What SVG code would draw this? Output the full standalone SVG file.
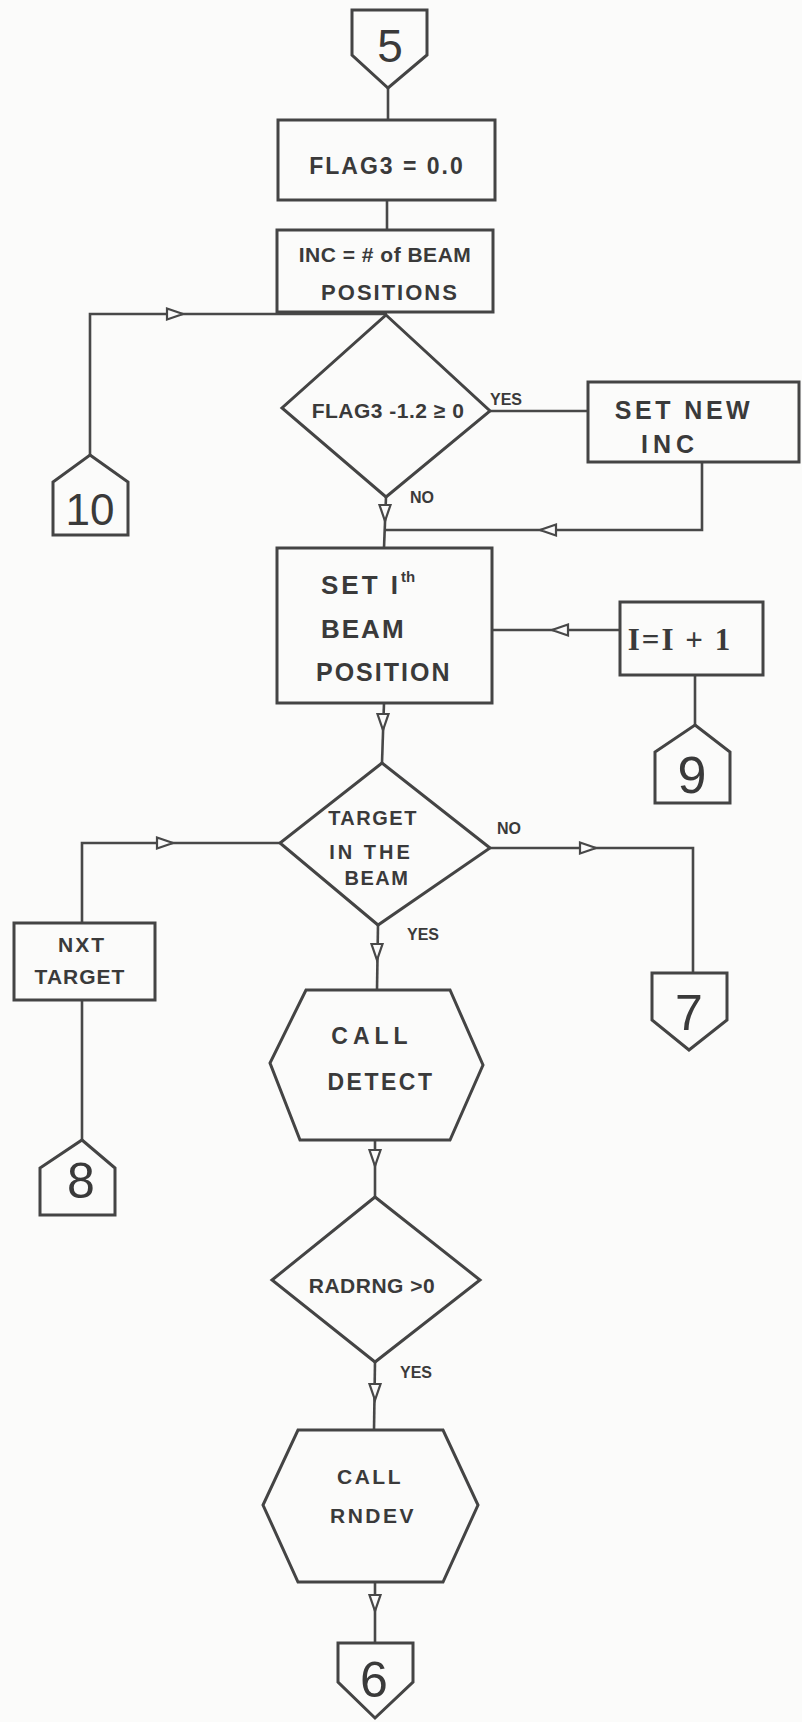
<svg xmlns="http://www.w3.org/2000/svg" xmlns:xlink="http://www.w3.org/1999/xlink" width="802" height="1722" viewBox="0 0 802 1722">
<style>
.sh{fill:none;stroke:#444;stroke-width:3;stroke-linejoin:miter}
.ln{fill:none;stroke:#484848;stroke-width:2.6}
.ah{fill:#fbfbfb;stroke:#484848;stroke-width:2.2}
.t{font-family:"Liberation Sans",Arial,sans-serif;font-weight:bold;fill:#3a3a3a;text-anchor:middle}
.ts{font-family:"Liberation Sans",Arial,sans-serif;font-weight:bold;fill:#3a3a3a;text-anchor:start}
.n{font-family:"Liberation Sans",Arial,sans-serif;font-weight:normal;fill:#3a3a3a;text-anchor:middle}
.lb{font-family:"Liberation Sans",Arial,sans-serif;font-weight:bold;fill:#3a3a3a;font-size:16px}
</style>
<defs>
<path id="ad" d="M-5.5,-8 L5.5,-8 L0,8 Z"/>
</defs>
<rect x="0" y="0" width="802" height="1722" fill="#fbfbfa"/>

<g id="connectors">
<path class="ln" d="M388,88 L388,120"/>
<path class="ln" d="M387,200 L387,230"/>
<path class="ln" d="M90,455 L90,314 L387,314"/>
<path class="ln" d="M490,411 L588,411"/>
<path class="ln" d="M702,462 L702,530 L385,530"/>
<path class="ln" d="M386,497 L384,548"/>
<path class="ln" d="M620,630 L492,630"/>
<path class="ln" d="M695,675 L695,725"/>
<path class="ln" d="M384,703 L382,763"/>
<path class="ln" d="M490,848 L693,848 L693,973"/>
<path class="ln" d="M82,923 L82,843 L280,843"/>
<path class="ln" d="M82,1000 L82,1140"/>
<path class="ln" d="M378,925 L377,990"/>
<path class="ln" d="M375,1140 L375,1197"/>
<path class="ln" d="M375,1362 L374,1430"/>
<path class="ln" d="M375,1582 L375,1643"/>
<use href="#ad" class="ah" transform="translate(175,314) rotate(-90)"/>
<use href="#ad" class="ah" transform="translate(548,530) rotate(90)"/>
<use href="#ad" class="ah" transform="translate(385,513)"/>
<use href="#ad" class="ah" transform="translate(560,630) rotate(90)"/>
<use href="#ad" class="ah" transform="translate(383,722)"/>
<use href="#ad" class="ah" transform="translate(588,848) rotate(-90)"/>
<use href="#ad" class="ah" transform="translate(165,843) rotate(-90)"/>
<use href="#ad" class="ah" transform="translate(377,952)"/>
<use href="#ad" class="ah" transform="translate(375,1158)"/>
<use href="#ad" class="ah" transform="translate(375,1392)"/>
<use href="#ad" class="ah" transform="translate(375,1603)"/>
<text class="lb" x="490" y="405" font-size="17">YES</text>
<text class="lb" x="410" y="503">NO</text>
<text class="lb" x="497" y="834">NO</text>
<text class="lb" x="407" y="940" font-size="18">YES</text>
<text class="lb" x="400" y="1378" font-size="18">YES</text>
</g>

<g id="c5">
<path class="sh" d="M352,10 L427,10 L427,55 L388,88 L352,55 Z"/>
<text class="n" x="390" y="62" font-size="46">5</text>
</g>

<g id="flag3">
<rect class="sh" x="278" y="120" width="217" height="80"/>
<text class="t" x="387" y="174" font-size="23" letter-spacing="2">FLAG3 = 0.0</text>
</g>

<g id="inc">
<rect class="sh" x="277" y="230" width="216" height="82"/>
<text class="t" x="385" y="262" font-size="21" letter-spacing="0.5">INC = # of BEAM</text>
<text class="t" x="390" y="300" font-size="22" letter-spacing="2">POSITIONS</text>
</g>

<g id="c10">
<path class="sh" d="M90,455 L128,482 L128,535 L53,535 L53,482 Z"/>
<text class="n" x="90" y="525" font-size="44">10</text>
</g>

<g id="dflag">
<path class="sh" d="M386,315 L490,411 L386,497 L282,408 Z"/>
<text class="t" x="388" y="418" font-size="21" letter-spacing="0.5">FLAG3 -1.2 ≥ 0</text>
</g>

<g id="setnewinc">
<rect class="sh" x="588" y="382" width="211" height="80"/>
<text class="t" x="684" y="419" font-size="25" letter-spacing="3.5">SET NEW</text>
<text class="t" x="670" y="453" font-size="25" letter-spacing="5">INC</text>
</g>

<g id="setbeam">
<rect class="sh" x="277" y="548" width="215" height="155"/>
<text class="ts" x="321" y="594" font-size="26" letter-spacing="3">SET I<tspan font-size="15" dy="-12" letter-spacing="0">th</tspan></text>
<text class="ts" x="321" y="638" font-size="26" letter-spacing="2">BEAM</text>
<text class="ts" x="316" y="681" font-size="25" letter-spacing="2">POSITION</text>
</g>

<g id="inci">
<rect class="sh" x="620" y="602" width="143" height="73"/>
<text class="t" x="680" y="650" font-size="31" style="font-family:'Liberation Serif',serif" letter-spacing="2">I=I + 1</text>
</g>

<g id="c9">
<path class="sh" d="M695,725 L730,752 L730,803 L655,803 L655,752 Z"/>
<text class="n" x="692" y="793" font-size="52">9</text>
</g>

<g id="dtarget">
<path class="sh" d="M382,763 L490,848 L378,925 L280,843 Z"/>
<text class="t" x="373" y="825" font-size="20" letter-spacing="1.5">TARGET</text>
<text class="t" x="371" y="859" font-size="20" letter-spacing="3">IN THE</text>
<text class="t" x="377" y="885" font-size="20" letter-spacing="1.5">BEAM</text>
</g>

<g id="c7">
<path class="sh" d="M652,973 L727,973 L727,1020 L689,1050 L652,1020 Z"/>
<text class="n" x="689" y="1030" font-size="50">7</text>
</g>

<g id="nxt">
<rect class="sh" x="14" y="923" width="141" height="77"/>
<text class="t" x="82" y="952" font-size="21" letter-spacing="2">NXT</text>
<text class="t" x="80" y="984" font-size="21" letter-spacing="1">TARGET</text>
</g>

<g id="c8">
<path class="sh" d="M82,1140 L115,1168 L115,1215 L40,1215 L40,1168 Z"/>
<text class="n" x="81" y="1198" font-size="50">8</text>
</g>

<g id="detect">
<path class="sh" d="M306,990 L450,990 L483,1065 L450,1140 L300,1140 L270,1063 Z"/>
<text class="t" x="372" y="1044" font-size="23" letter-spacing="5">CALL</text>
<text class="t" x="381" y="1090" font-size="23" letter-spacing="2.5">DETECT</text>
</g>

<g id="dradrng">
<path class="sh" d="M375,1197 L480,1280 L375,1362 L272,1280 Z"/>
<text class="t" x="372" y="1293" font-size="21" letter-spacing="0.5">RADRNG &gt;0</text>
</g>

<g id="rndev">
<path class="sh" d="M298,1430 L443,1430 L478,1505 L443,1582 L298,1582 L263,1505 Z"/>
<text class="t" x="370" y="1484" font-size="21" letter-spacing="2.5">CALL</text>
<text class="t" x="373" y="1523" font-size="21" letter-spacing="2.5">RNDEV</text>
</g>

<g id="c6">
<path class="sh" d="M338,1643 L413,1643 L413,1682 L375,1718 L338,1682 Z"/>
<text class="n" x="374" y="1697" font-size="50">6</text>
</g>
</svg>
